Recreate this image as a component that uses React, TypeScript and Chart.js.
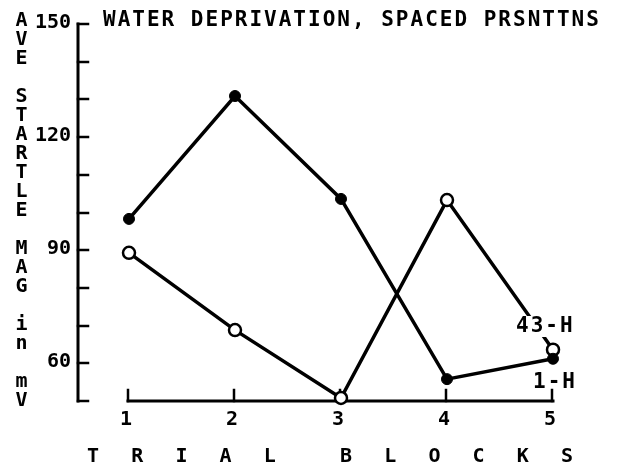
import { useEffect, useRef } from "react";
import { Chart, registerables } from "chart.js";

Chart.register(...registerables);

const TRIAL_BLOCKS = [1, 2, 3, 4, 5];
const SERIES_1H = [98.3, 130.9, 103.6, 55.8, 61.2];
const SERIES_43H = [89.3, 68.8, 50.8, 103.3, 63.6];
const Y_TICKS = [50, 60, 70, 80, 90, 100, 110, 120, 130, 140, 150];
const Y_TICK_LABELS = [60, 90, 120, 150];
const TITLE = "WATER DEPRIVATION, SPACED PRSNTTNS";
const Y_TITLE = "AVE STARTLE MAG in mV";
const X_TITLE_WORDS = ["TRIAL", "BLOCKS"];
const SERIES_LABELS = ["1-H", "43-H"];

const FONT = "'DejaVu Sans Mono', monospace";

const plotterPlugin = {
  id: "plotter",
  beforeDatasetsDraw(chart: any) {
    const { ctx, scales } = chart;
    const x = scales.x;
    const y = scales.y;
    ctx.save();
    ctx.strokeStyle = "#000";
    ctx.fillStyle = "#000";
    ctx.lineWidth = 3;
    ctx.lineCap = "square";

    const ax = 78;
    const yTop = y.getPixelForValue(Y_TICKS[Y_TICKS.length - 1]);
    const yBot = y.getPixelForValue(Y_TICKS[0]);
    // y axis
    ctx.beginPath();
    ctx.moveTo(ax, yTop);
    ctx.lineTo(ax, yBot);
    ctx.stroke();
    ctx.lineWidth = 2.5;
    Y_TICKS.forEach((v) => {
      const py = Math.round(y.getPixelForValue(v));
      ctx.beginPath();
      ctx.moveTo(ax, py);
      ctx.lineTo(ax + 10, py);
      ctx.stroke();
    });
    // x axis
    const x0 = x.getPixelForValue(TRIAL_BLOCKS[0]);
    const x1 = x.getPixelForValue(TRIAL_BLOCKS[TRIAL_BLOCKS.length - 1]);
    ctx.lineWidth = 3;
    ctx.beginPath();
    ctx.moveTo(x0 - 1, yBot);
    ctx.lineTo(x1, yBot);
    ctx.stroke();
    ctx.lineWidth = 2.5;
    TRIAL_BLOCKS.forEach((t) => {
      const px = Math.round(x.getPixelForValue(t)) - 1;
      ctx.beginPath();
      ctx.moveTo(px, yBot);
      ctx.lineTo(px, yBot - 11);
      ctx.stroke();
    });

    // tick labels
    ctx.font = `bold 20px ${FONT}`;
    ctx.textBaseline = "middle";
    ctx.textAlign = "right";
    Y_TICK_LABELS.forEach((v) => {
      ctx.fillText(String(v), 71, y.getPixelForValue(v) - 1.5);
    });
    ctx.textAlign = "center";
    TRIAL_BLOCKS.forEach((t) => {
      ctx.fillText(String(t), x.getPixelForValue(t) - 3, yBot + 19);
    });

    // y title stacked
    ctx.textAlign = "center";
    Y_TITLE.split("").forEach((ch, i) => {
      if (ch !== " ") ctx.fillText(ch, 21.5, 21 + 19 * i);
    });

    // x title
    const starts = [93, 346];
    X_TITLE_WORDS.forEach((w, wi) => {
      w.split("").forEach((ch, i) => {
        ctx.fillText(ch, starts[wi] + i * 44.2, 457);
      });
    });

    // main title
    ctx.font = `bold 21px ${FONT}`;
    (ctx as any).letterSpacing = "2px";
    ctx.textAlign = "left";
    ctx.fillText(TITLE, 103, 21);
    ctx.restore();
  },
  afterDatasetsDraw(chart: any) {
    const { ctx } = chart;
    ctx.save();
    ctx.font = `bold 21px ${FONT}`;
    (ctx as any).letterSpacing = "2px";
    ctx.textBaseline = "middle";
    ctx.textAlign = "left";
    const w43 = ctx.measureText(SERIES_LABELS[1]).width;
    ctx.fillStyle = "#fff";
    ctx.fillRect(515, 316, w43, 21);
    ctx.fillStyle = "#000";
    ctx.fillText(SERIES_LABELS[1], 516, 326.5);
    ctx.fillText(SERIES_LABELS[0], 533, 383);
    ctx.restore();
  },
};

export default function App() {
  const ref = useRef<HTMLCanvasElement | null>(null);
  useEffect(() => {
    document.body.style.margin = "0";
    const canvas = ref.current;
    if (!canvas) return;
    const chart = new Chart(canvas, {
      type: "line",
      data: {
        datasets: [
          {
            label: SERIES_LABELS[0],
            data: TRIAL_BLOCKS.map((t, i) => ({ x: t, y: SERIES_1H[i] })),
            borderColor: "#000",
            borderWidth: 3.5,
            pointRadius: 5.5,
            pointBackgroundColor: "#000",
            pointBorderColor: "#000",
            pointBorderWidth: 1,
            tension: 0,
            clip: false as any,
          },
          {
            label: SERIES_LABELS[1],
            data: TRIAL_BLOCKS.map((t, i) => ({ x: t, y: SERIES_43H[i] })),
            borderColor: "#000",
            borderWidth: 3.5,
            pointRadius: 6,
            pointBackgroundColor: "#fff",
            pointBorderColor: "#000",
            pointBorderWidth: 2.5,
            tension: 0,
            clip: false as any,
          },
        ],
      },
      options: {
        responsive: false,
        animation: false,
        layout: { padding: { left: 129, right: 66, top: 24, bottom: 67 } },
        scales: {
          x: { type: "linear", min: 1, max: 5, display: false },
          y: { type: "linear", min: 50, max: 150, display: false },
        },
        plugins: {
          legend: { display: false },
          title: { display: false },
          tooltip: { enabled: false },
        },
      },
      plugins: [plotterPlugin],
    });
    return () => chart.destroy();
  }, []);
  return (
    <canvas
      ref={ref}
      width={619}
      height={468}
      style={{ display: "block", width: 619, height: 468, background: "#fff" }}
    />
  );
}
